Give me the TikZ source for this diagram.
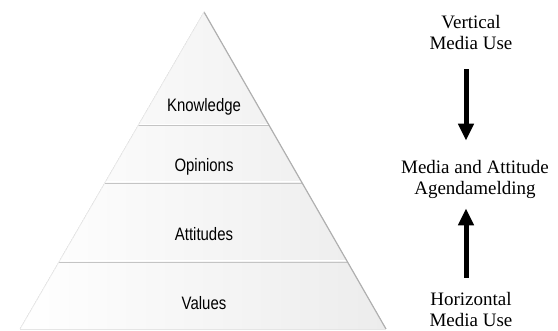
\documentclass[tikz,border=0pt]{standalone}
\usepackage{fontspec}
\setmainfont{Liberation Serif}
\newfontfamily\narrowsans[FakeStretch=0.83]{Liberation Sans}
\usetikzlibrary{arrows.meta,calc}
\definecolor{tierfill}{HTML}{ECECEC}
\definecolor{tierline}{HTML}{C4C4C4}
\definecolor{edgeshade}{HTML}{B0B0B0}

\begin{document}
\begin{tikzpicture}[x=1pt, y=-1pt,
    tier/.style={left color=white, right color=tierfill, draw=none},
    tierlabel/.style={font=\narrowsans\fontsize{18}{20}\selectfont, anchor=base, inner sep=0pt},
    sidelabel/.style={font=\fontsize{19}{21}\selectfont, align=center, inner sep=0pt},
    bigarrow/.style={line width=5pt, -{Triangle[width=15pt,length=17pt]}}]

    % Frame of the picture
    \useasboundingbox (0,0) rectangle (558,331);

    % Corners of the pyramid
    \coordinate (T) at (204,12);
    \coordinate (L) at (20,329);
    \coordinate (R) at (386,329);

    % Heights of the tier lines
    \coordinate (L1) at ($(T)!0.3581!(L)$);
    \coordinate (R1) at ($(T)!0.3581!(R)$);
    \coordinate (L2) at ($(T)!0.5410!(L)$);
    \coordinate (R2) at ($(T)!0.5410!(R)$);
    \coordinate (L3) at ($(T)!0.7902!(L)$);
    \coordinate (R3) at ($(T)!0.7902!(R)$);

    % Fill the pyramid
    \fill[tier] (T) -- (R) -- (L) -- cycle;

    % Tier lines, with a light line below each one
    \draw[tierline, line width=1.2pt] (L1) -- (R1);
    \draw[tierline, line width=1.2pt] (L2) -- (R2);
    \draw[tierline, line width=1.2pt] (L3) -- (R3);
    \draw[white, line width=1pt] ([yshift=1.5pt]L1) -- ([yshift=1.5pt]R1);
    \draw[white, line width=1pt] ([yshift=1.5pt]L2) -- ([yshift=1.5pt]R2);
    \draw[white, line width=1pt] ([yshift=1.5pt]L3) -- ([yshift=1.5pt]R3);

    % Shaded edges
    \draw[edgeshade, line width=1.2pt] (T) -- (R);
    \draw[gray!15, line width=0.8pt] (T) -- (L);
    \draw[gray!20, line width=0.8pt] (L) -- (R);

    % Tier labels
    \node[tierlabel] (knowledge) at (204,112) {Knowledge};
    \node[tierlabel] (opinions) at (204,172) {Opinions};
    \node[tierlabel] (attitudes) at (204,241) {Attitudes};
    \node[tierlabel] (values) at (204,310) {Values};

    % Labels on the right
    \node[sidelabel] (vertical) at (471,33) {Vertical\\Media Use};
    \node[sidelabel] (agenda) at (475,179) {Media and Attitude\\Agendamelding};
    \node[sidelabel] (horizontal) at (471,310) {Horizontal\\Media Use};

    % Arrows pointing to the middle label
    \coordinate (arrx) at (466,0);
    \draw[bigarrow, shorten <=19pt, shorten >=19pt] (vertical.south -| arrx) -- (agenda.north -| arrx);
    \draw[bigarrow, shorten <=15pt, shorten >=10pt] (horizontal.north -| arrx) -- (agenda.south -| arrx);

\end{tikzpicture}
\end{document}
